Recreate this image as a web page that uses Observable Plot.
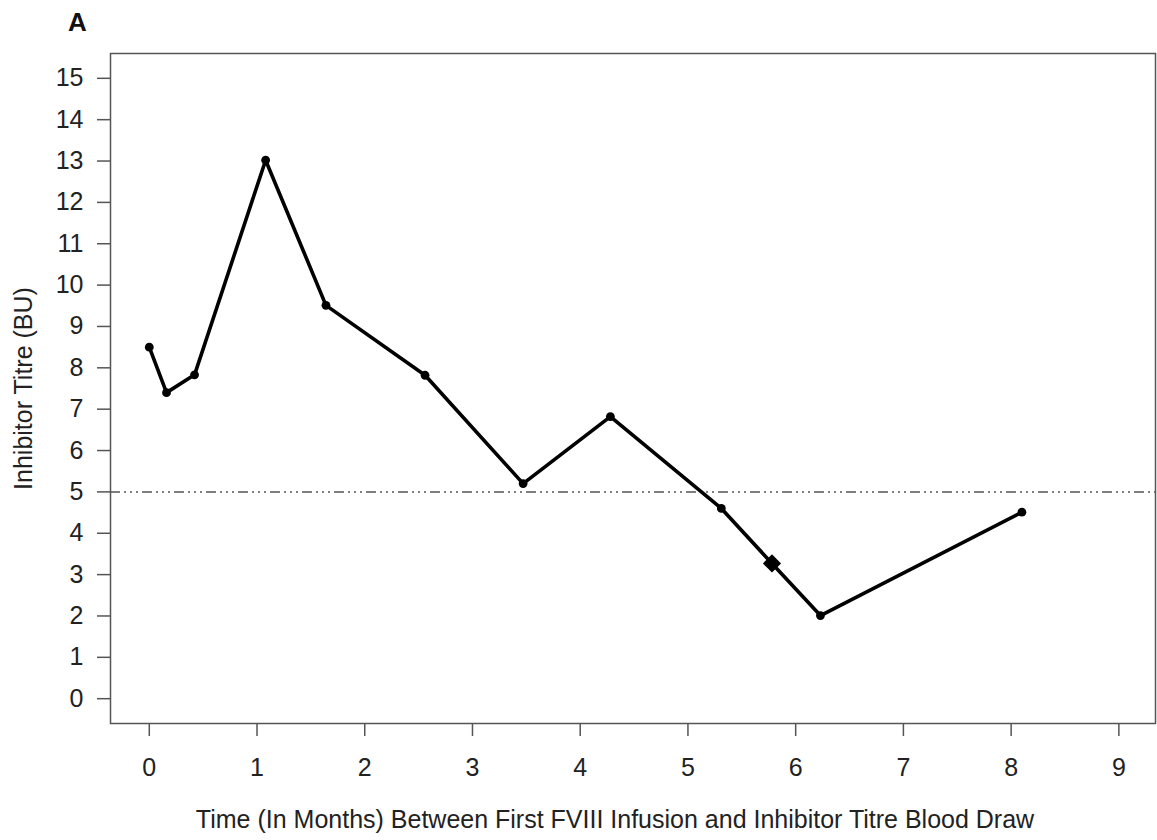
<!DOCTYPE html>
<html>
<head>
<meta charset="utf-8">
<script src="https://cdn.jsdelivr.net/npm/d3@7"></script>
<script src="https://cdn.jsdelivr.net/npm/@observablehq/plot@0.6"></script>
<style>
  html, body { margin: 0; padding: 0; background: #fff; }
</style>
</head>
<body>
<div id="chart"></div>
<script>
const months = [0, 0.16, 0.42, 1.08, 1.64, 2.56, 3.47, 4.28, 5.31, 5.78, 6.23, 8.10];
const titres = [8.5, 7.4, 7.83, 13.02, 9.51, 7.82, 5.2, 6.82, 4.6, 3.27, 2.01, 4.51];
const markers = ["circle", "circle", "circle", "circle", "circle", "circle", "circle", "circle", "circle", "diamond", "circle", "circle"];
const xTicks = [0, 1, 2, 3, 4, 5, 6, 7, 8, 9];
const yTicks = [0, 1, 2, 3, 4, 5, 6, 7, 8, 9, 10, 11, 12, 13, 14, 15];
const threshold = [5];
const panelLabel = "A";
const xLabel = "Time (In Months) Between First FVIII Infusion and Inhibitor Titre Blood Draw";
const yLabel = "Inhibitor Titre (BU)";

const data = months.map((m, i) => ({month: m, titre: titres[i], marker: markers[i]}));

const font = "'Liberation Sans', Arial, Helvetica, sans-serif";

const chart = Plot.plot({
  width: 1157,
  height: 840,
  marginLeft: 110,
  marginRight: 2,
  marginTop: 53,
  marginBottom: 117,
  style: {fontSize: "25px", fontFamily: font, background: "#fff", color: "#222"},
  x: {domain: [-0.36, 9.34]},
  y: {domain: [-0.6, 15.6]},
  marks: [
    Plot.ruleY(threshold, {stroke: "#555", strokeWidth: 1.5, strokeDasharray: "10,4,2,4,2,4,2,4"}),
    Plot.line(data, {x: "month", y: "titre", stroke: "#000", strokeWidth: 3.6, strokeLinejoin: "miter"}),
    Plot.dot(data.filter(d => d.marker === "circle"), {x: "month", y: "titre", r: 4.4, fill: "#000", stroke: "none"}),
    Plot.dot(data.filter(d => d.marker === "diamond"), {x: "month", y: "titre", r: 8.2, symbol: "diamond2", fill: "#000", stroke: "none"}),
    Plot.frame({stroke: "#555", strokeWidth: 1.5}),
    Plot.axisX({ticks: xTicks, tickSize: 13, tickPadding: 22, fontSize: 25, stroke: "#555", strokeWidth: 1.5, fill: "#222", label: null, tickFormat: d => String(d)}),
    Plot.axisY({ticks: yTicks, tickSize: 13, tickPadding: 14, fontSize: 25, stroke: "#555", strokeWidth: 1.5, fill: "#222", label: null, tickFormat: d => String(d)}),
    Plot.text([xLabel], {frameAnchor: "bottom", textAnchor: "middle", lineAnchor: "middle", dx: -18, dy: 96, fontSize: 25, fill: "#222"}),
    Plot.text([yLabel], {frameAnchor: "left", textAnchor: "middle", lineAnchor: "middle", dx: -87, rotate: -90, fontSize: 25, fill: "#222"}),
    Plot.text([panelLabel], {frameAnchor: "top-left", textAnchor: "middle", lineAnchor: "middle", dx: -33, dy: -31, fontSize: 26, fontWeight: "bold", fill: "#111"})
  ]
});
document.getElementById("chart").appendChild(chart);
</script>
</body>
</html>
